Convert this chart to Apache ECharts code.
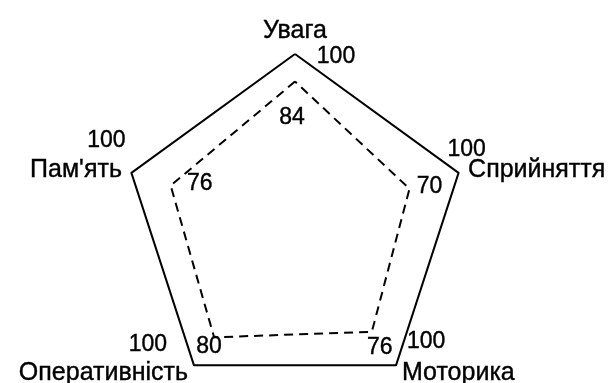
<!DOCTYPE html>
<html>
<head>
<meta charset="utf-8">
<title>Radar</title>
<script src="https://cdn.jsdelivr.net/npm/echarts@6/dist/echarts.min.js"></script>
<style>
  html, body { margin: 0; padding: 0; background: #fff; }
  #chart { width: 611px; height: 383px; }
</style>
</head>
<body>
<div id="chart"></div>
<script>
// indicators in radar order (counterclockwise from the top)
const indicators = ["Увага", "Пам'ять", "Оперативність", "Моторика", "Сприйняття"];
const maxValue = 100;
const normValues = [100, 100, 100, 100, 100];
const resultValues = [84, 76, 80, 76, 70];

// label offsets (px) for each vertex
const normLabelOffsets = [[41, 3], [-25, -32], [-46, -20], [30, -23], [8, -23]];
const resultLabelOffsets = [[-3, 36], [29, -2], [-5, 9], [8, 16], [20, -2]];

const font = "Liberation Sans, Arial, sans-serif";

// one invisible polygon per vertex, carrying only that vertex's label
function labelItems(values, offsets) {
  return values.map(function (v, i) {
    const value = values.map(function (_, j) { return j === i ? v : "-"; });
    return { value: value, label: { offset: offsets[i] } };
  });
}

const labelStyle = {
  show: true,
  position: "inside",
  color: "#000",
  fontSize: 23,
  fontFamily: font,
  textBorderColor: "#000",
  textBorderWidth: 0.4
};

const chart = echarts.init(document.getElementById("chart"));
chart.setOption({
  animation: false,
  radar: {
    center: [295, 226],
    radius: 172,
    startAngle: 90,
    shape: "polygon",
    splitNumber: 1,
    indicator: indicators.map(function (n) { return { name: n, min: 0, max: maxValue }; }),
    nameGap: 10,
    axisName: {
      color: "#000", fontSize: 25, fontFamily: font,
      textBorderColor: "#000", textBorderWidth: 0.4
    },
    axisLine: { show: false },
    axisTick: { show: false },
    axisLabel: { show: false },
    splitLine: { show: false },
    splitArea: { show: false }
  },
  series: [
    {
      type: "radar",
      symbol: "none",
      lineStyle: { color: "#000", width: 2, type: "solid" },
      data: [{ name: "Норма", value: normValues }]
    },
    {
      type: "radar",
      symbol: "none",
      lineStyle: { color: "#000", width: 2, type: [9, 6] },
      data: [{ name: "Результат", value: resultValues }]
    },
    {
      type: "radar",
      symbol: "circle",
      symbolSize: 0,
      silent: true,
      lineStyle: { opacity: 0, width: 0 },
      label: labelStyle,
      data: labelItems(normValues, normLabelOffsets)
    },
    {
      type: "radar",
      symbol: "circle",
      symbolSize: 0,
      silent: true,
      lineStyle: { opacity: 0, width: 0 },
      label: labelStyle,
      data: labelItems(resultValues, resultLabelOffsets)
    }
  ]
});
</script>
</body>
</html>
